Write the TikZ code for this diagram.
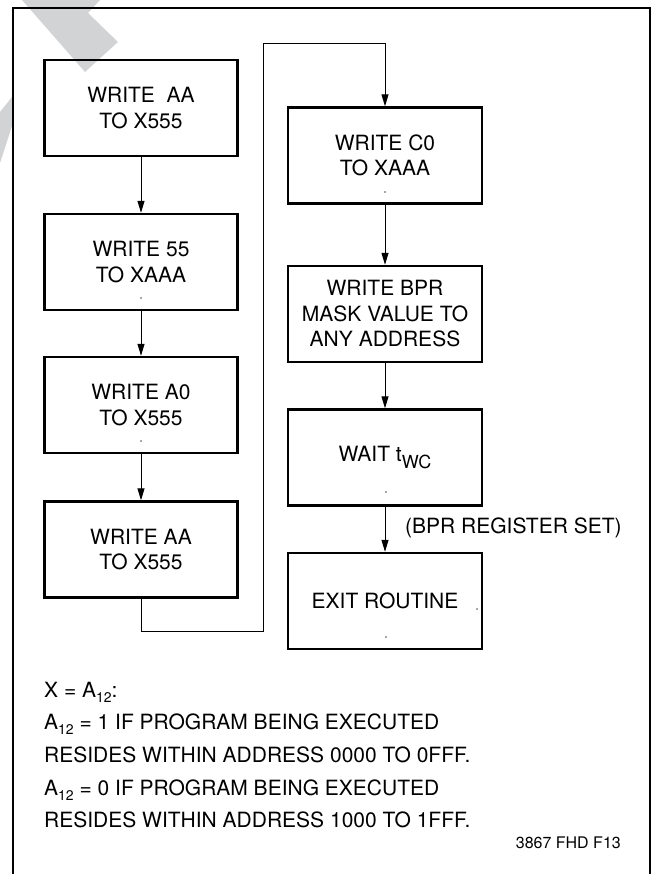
\documentclass[tikz,border=0pt]{standalone}
\usepackage{fontspec}
\setmainfont{TeX Gyre Heros}
\usetikzlibrary{arrows.meta}
\definecolor{wm}{HTML}{D1D3D4}
\tikzset{
  flowbox/.style={draw, line width=2.4pt, minimum width=193pt, minimum height=96pt,
    inner sep=0pt, align=center, font=\fontsize{21}{25.5}\selectfont},
  conn/.style={line width=1pt, -{Triangle[length=12pt,width=7pt]}},
  plain/.style={line width=1pt},
  note/.style={anchor=base west, inner sep=0pt, font=\fontsize{21}{25}\selectfont},
  speck/.style={fill=black!70, draw=none}
}
\newcommand{\subtw}[1]{\raisebox{-5pt}{\fontsize{14}{14}\selectfont #1}}
\begin{document}
\begin{tikzpicture}[x=1pt,y=-1pt]
\useasboundingbox (0,0) rectangle (654,874);
% watermark fragments
\fill[wm] (22,0) -- (100,0) -- (88,13) -- (118,42) -- (85,72) -- cycle;
\fill[wm] (0,112) -- (12,97) -- (14,120) -- (0,163) -- cycle;
% frame
\draw[line width=1.2pt] (13,874) -- (13,8) -- (650,8) -- (650,874);
% boxes
\node[flowbox] (b1) at (141,108) {WRITE\ \ AA\\TO X555};
\node[flowbox] (b2) at (141,262) {WRITE 55\\TO XAAA};
\node[flowbox] (b3) at (141,405) {WRITE A0\\TO X555};
\node[flowbox] (b4) at (141,549.5) {WRITE AA\\TO X555};
\node[flowbox, minimum width=194pt] (b5) at (385,155.5) {WRITE C0\\TO XAAA};
\node[flowbox, minimum width=194pt] (b6) at (385,314) {WRITE BPR\\MASK VALUE TO\\ANY ADDRESS};
\node[flowbox, minimum width=194pt] (b7) at (385,457.5) {WAIT t\raisebox{-7pt}{\fontsize{18}{18}\selectfont WC}};
\node[flowbox, minimum width=194pt] (b8) at (385,601) {EXIT ROUTINE};
% connectors
\draw[conn] (b1) -- (b2);
\draw[conn] (b2) -- (b3);
\draw[conn] (b3) -- (b4);
\coordinate (c1) at (141,631);
\coordinate (c2) at (263,631);
\coordinate (c3) at (263,44);
\coordinate (c4) at (385,44);
\draw[conn] (b4.south) -- (c1) -- (c2) -- (c3) -- (c4) -- (b5.north);
\draw[conn] (b5) -- (b6);
\draw[conn] (b6) -- (b7);
\draw[conn] (b7) -- (b8);
\node[anchor=west, inner sep=0pt, font=\fontsize{21}{25}\selectfont] (lbl) at (405,528) {(BPR REGISTER SET)};
% specks
\fill[speck] (141,298) circle (0.8);
\fill[speck] (141,441) circle (0.8);
\fill[speck] (385,192) circle (0.8);
\fill[speck] (386,492) circle (0.8);
\fill[speck] (386,637) circle (0.8);
\fill[speck] (477,609) circle (0.8);
% notes
\node[note] (n1) at (44,697) {X = A\subtw{12}:};
\node[note] (n2) at (44,729) {A\subtw{12} = 1 IF PROGRAM BEING EXECUTED};
\node[note] (n3) at (44,762) {RESIDES WITHIN ADDRESS 0000 TO 0FFF.};
\node[note] (n4) at (44,795) {A\subtw{12} = 0 IF PROGRAM BEING EXECUTED};
\node[note] (n5) at (44,827) {RESIDES WITHIN ADDRESS 1000 TO 1FFF.};
\node[anchor=base east, inner sep=0pt, font=\fontsize{16}{18}\selectfont] (fig) at (621,848) {3867 FHD F13};
\end{tikzpicture}
\end{document}
